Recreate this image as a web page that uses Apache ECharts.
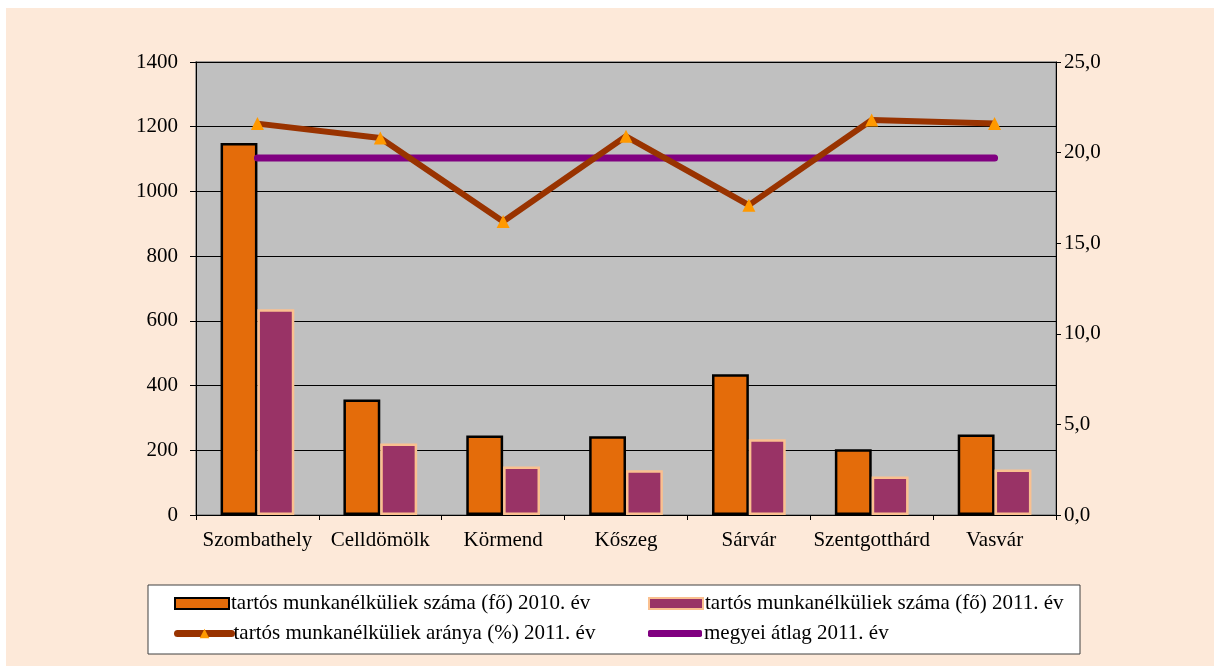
<!DOCTYPE html>
<html>
<head>
<meta charset="utf-8">
<script src="https://cdn.jsdelivr.net/npm/echarts@6/dist/echarts.min.js"></script>
<style>
  html, body { margin: 0; padding: 0; background: #fff; }
  #main { width: 1214px; height: 666px; }
</style>
</head>
<body>
<div id="main"></div>
<script>
// telepulesek
const categories = ['Szombathely', 'Celldömölk', 'Körmend', 'Kőszeg', 'Sárvár', 'Szentgotthárd', 'Vasvár'];

// tartos munkanelkuliek szama (fo)
const count2010 = [1150, 357, 246, 243, 435, 203, 249];
const count2011 = [636, 221, 150, 138, 234, 119, 141];

// arany (%) 2011 es megyei atlag
const rate2011 = [21.6, 20.8, 16.2, 20.9, 17.1, 21.8, 21.6];
const countyAvg = [19.7, 19.7, 19.7, 19.7, 19.7, 19.7, 19.7];

const seriesNames = [
  'tartós munkanélküliek száma (fő) 2010. év',
  'tartós munkanélküliek száma (fő) 2011. év',
  'tartós munkanélküliek aránya (%) 2011. év',
  'megyei átlag 2011. év'
];

const font = 'Liberation Serif, Times New Roman, serif';
const txt = { fontFamily: font, fontSize: 21, color: '#000' };

const chart = echarts.init(document.getElementById('main'));

function legendAt(item, left, top, extra) {
  return Object.assign({
    data: [item], left: left, top: top,
    itemWidth: 54, itemHeight: 11, itemGap: 2,
    padding: 0,
    textStyle: Object.assign({}, txt, { padding: [0, 0, 0, -3] })
  }, extra || {});
}

chart.setOption({
  animation: false,
  backgroundColor: '#fff',
  graphic: [
    { type: 'rect', shape: { x: 6, y: 8, width: 1208, height: 658 }, style: { fill: '#FDE9D9' }, z: -10 },
    { type: 'rect', shape: { x: 148, y: 585, width: 932, height: 69 }, style: { fill: '#fff', stroke: '#404040', lineWidth: 1 }, z: -5 }
  ],
  legend: [
    legendAt({ name: seriesNames[0], icon: 'rect' }, 174, 593),
    legendAt({ name: seriesNames[1], icon: 'rect' }, 648, 593),
    legendAt({ name: seriesNames[2] }, 174, 623, { itemHeight: 12, lineStyle: { width: 7, cap: 'round' } }),
    legendAt({ name: seriesNames[3], icon: 'roundRect' }, 648, 623, { itemHeight: 7, itemStyle: { color: '#800080' } })
  ],
  grid: {
    left: 196, right: 158, top: 62, bottom: 151,
    show: true, backgroundColor: '#C0C0C0', borderColor: '#808080', borderWidth: 1.5
  },
  xAxis: {
    type: 'category',
    data: categories,
    axisLine: { lineStyle: { color: '#000' } },
    axisTick: { show: true, length: 5, lineStyle: { color: '#000' } },
    axisLabel: Object.assign({}, txt, { margin: 15, interval: 0 })
  },
  yAxis: [
    {
      type: 'value', min: 0, max: 1400, interval: 200,
      axisLine: { show: true, lineStyle: { color: '#000' } },
      axisTick: { show: true, length: 6, lineStyle: { color: '#000' } },
      axisLabel: Object.assign({}, txt, { margin: 18, formatter: v => String(v) }),
      splitLine: { lineStyle: { color: '#000', width: 1 } }
    },
    {
      type: 'value', min: 0, max: 25, interval: 5,
      axisLine: { show: true, lineStyle: { color: '#000' } },
      axisTick: { show: true, length: 5, lineStyle: { color: '#000' } },
      axisLabel: Object.assign({}, txt, {
        margin: 8,
        formatter: v => v.toFixed(1).replace('.', ',')
      }),
      splitLine: { show: false }
    }
  ],
  series: [
    {
      name: seriesNames[0], type: 'bar', data: count2010,
      barGap: '0%', barCategoryGap: '40%',
      itemStyle: { color: '#E46C0A', borderColor: '#000', borderWidth: 2.5 }
    },
    {
      name: seriesNames[1], type: 'bar', data: count2011,
      itemStyle: { color: '#993366', borderColor: '#FAC090', borderWidth: 2.5 }
    },
    {
      name: seriesNames[2], type: 'line', yAxisIndex: 1, data: rate2011,
      symbol: 'triangle', symbolSize: 13,
      lineStyle: { color: '#993300', width: 6 },
      itemStyle: { color: '#FF9900' },
      z: 4
    },
    {
      name: seriesNames[3], type: 'line', yAxisIndex: 1, data: countyAvg,
      symbol: 'none',
      lineStyle: { color: '#800080', width: 7, cap: 'round' },
      itemStyle: { color: '#800080' },
      z: 3
    }
  ]
});
</script>
</body>
</html>
